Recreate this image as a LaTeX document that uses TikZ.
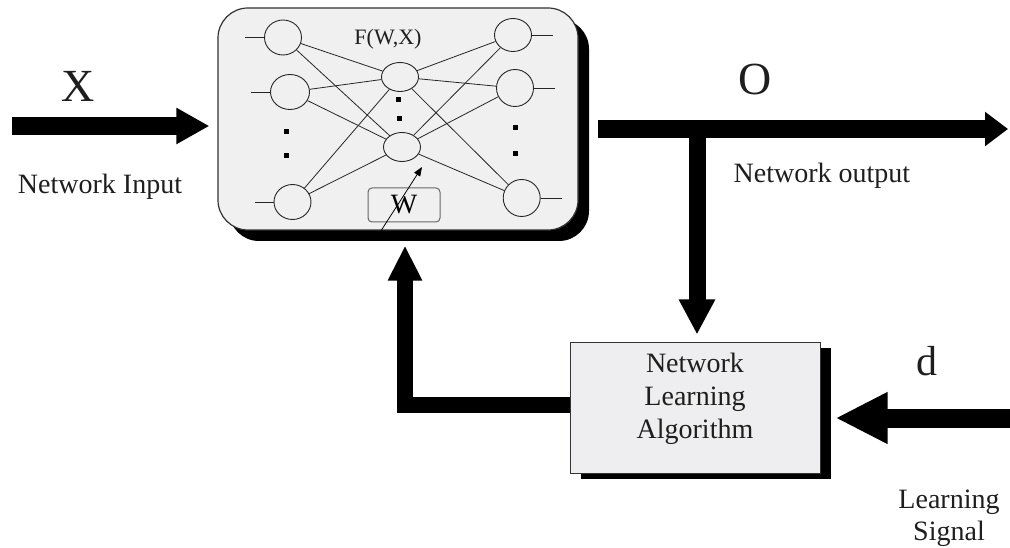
\documentclass[tikz,border=0pt]{standalone}
\usepackage{fontspec}
\setmainfont{Liberation Serif}
\usetikzlibrary{arrows.meta,shadows,calc,shapes.geometric}
\definecolor{boxgray}{RGB}{240,240,240}
\definecolor{lbgray}{RGB}{238,238,240}
\definecolor{ink}{RGB}{30,30,30}
\begin{document}
\begin{tikzpicture}[x=1pt,y=-1pt,
  mainbox/.style={draw=black!80, line width=1.2pt, fill=boxgray, rounded corners=30pt,
    drop shadow={shadow xshift=11pt,shadow yshift=-11pt,fill=black,opacity=1}},
  lbox/.style={draw=black!80, line width=1pt, fill=lbgray,
    drop shadow={shadow xshift=11pt,shadow yshift=-6pt,fill=black,opacity=1}},
  neuron/.style={ellipse, draw=black!85, line width=0.9pt, minimum width=37pt, minimum height=35pt, inner sep=0pt},
  hidden/.style={neuron, minimum height=29pt},
  conn/.style={draw=black!85, line width=0.8pt},
  dotsq/.style={rectangle, fill=black, minimum size=5pt, inner sep=0pt},
  wbox/.style={draw=black!60, line width=1pt, rounded corners=4pt, fill=boxgray, minimum width=72pt, minimum height=34pt, inner sep=0pt, font=\fontsize{28}{32}\selectfont},
  txt/.style={text=ink, font=\fontsize{28}{32}\selectfont, anchor=base, inner sep=0pt},
  big/.style={text=ink, font=\fontsize{46}{50}\selectfont, anchor=base, inner sep=0pt},
  fatI/.style={line width=18pt, -{Triangle[length=33pt,width=34pt]}},
  fatO/.style={line width=18pt, -{Triangle[length=23pt,width=33pt]}},
  fatD/.style={line width=17pt, -{Triangle[length=35pt,width=34pt]}},
  fatF/.style={line width=16pt, line join=miter, -{Triangle[length=35pt,width=32pt]}},
  fatL/.style={line width=19pt, -{Triangle[length=52pt,width=48pt]}}
]
\useasboundingbox (0,0) rectangle (1010,548);

% main network box
\node[mainbox, minimum width=360pt, minimum height=222pt] (net) at (398,119) {};

% neurons
\node[neuron] (l1) at (283,37.5) {};
\node[neuron, minimum width=39pt] (l2) at (290,92) {};
\node[neuron] (l3) at (292.5,202) {};
\node[hidden] (h1) at (400,77) {};
\node[hidden] (h2) at (402,147) {};
\node[neuron, minimum height=33pt] (r1) at (513,35) {};
\node[neuron, minimum height=37pt] (r2) at (515,88) {};
\node[neuron, minimum height=37pt] (r3) at (521.7,198) {};

\foreach \a in {l1,l2,l3} \foreach \b in {h1,h2} \draw[conn] (\a) -- (\b);
\foreach \a in {h1,h2} \foreach \b in {r1,r2,r3} \draw[conn] (\a) -- (\b);

% stubs
\foreach \n in {l1,l2,l3} \draw[conn] (\n.west) -- ++(-19,0);
\foreach \n in {r1,r2,r3} \draw[conn] (\n.east) -- ++(21,0);

% dots
\node[dotsq] (dl1) at (286,132) {};
\node[dotsq] (dl2) at (286,156) {};
\node[dotsq] (dh1) at (398,100) {};
\node[dotsq] (dh2) at (399,119) {};
\node[dotsq] (dr1) at (515,128) {};
\node[dotsq] (dr2) at (515,154) {};

\node[text=ink, font=\fontsize{22}{26}\selectfont, anchor=base, inner sep=0pt] (fwx) at (388,45) {F(W,X)};
\node[wbox] (wb) at (404,205) {W};
\coordinate (wtail) at (377,237);
\coordinate (whead) at (422,167);
\draw[line width=0.8pt, -{Triangle[length=9pt,width=7pt]}] (wtail) -- (whead);

% learning box
\node[lbox, minimum width=250pt, minimum height=131pt] (lb) at (695,407.5) {};
\node[txt] (lt1) at (695,372) {Network};
\node[txt] (lt2) at (695,405) {Learning};
\node[txt] (lt3) at (695,438) {Algorithm};

% input arrow
\coordinate (inS) at (12,126);
\draw[fatI] (inS) -- ($(inS -| net.west)+(-8,0)$);
\node[big] (X) at (78,102) {X};
\node[txt] (ni) at (100,194) {Network Input};

% output arrow
\coordinate (outE) at (1008,129);
\draw[fatO] ($(net.east |- outE)+(19,0)$) -- (outE);
\coordinate (br) at (697,120);
\draw[fatD] (br) -- ($(lb.north -| br)+(0,-7)$);
\node[big] (O) at (755,95) {O};
\node[txt] (no) at (822,183) {Network output};

% feedback arrow
\draw[fatF] ($(lb.west)+(0,-2.5)$) -| ($(net.south)+(7,15)$);

% learning signal
\coordinate (dS) at (1010,418);
\draw[fatL] (dS) -- ($(lb.east |- dS)+(15,0)$);
\node[big, font=\fontsize{42}{46}\selectfont] (d) at (927,375) {d};
\node[txt] (ls1) at (949,508) {Learning};
\node[txt] (ls2) at (949,540) {Signal};
\end{tikzpicture}
\end{document}
